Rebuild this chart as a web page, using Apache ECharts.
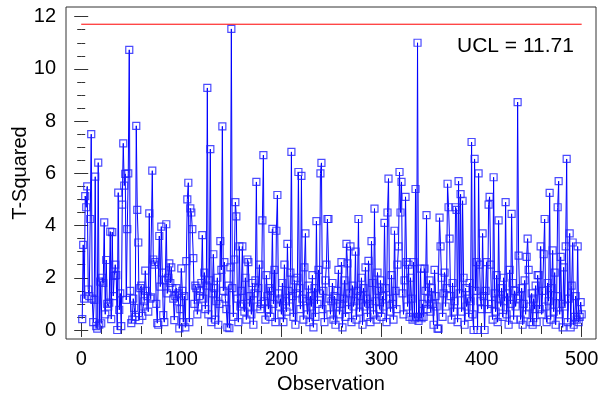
<!DOCTYPE html>
<html>
<head>
<meta charset="utf-8">
<script src="https://cdn.jsdelivr.net/npm/echarts@6/dist/echarts.min.js"></script>
<style>
html,body{margin:0;padding:0;background:#fff;}
#chart{width:598px;height:398px;}
</style>
</head>
<body>
<div id="chart"></div>
<script>
const t2 = [
0.42,3.26,1.2,5.13,4.7,5.5,1.55,1.3,4.25,7.5,1.2,0.3,1.15,5.87,0.15,0.05,6.41,0.2,1.85,0.25,
2.0,1.8,4.12,0.6,2.68,1.0,0.9,1.05,3.77,0.42,3.75,1.3,2.07,2.5,2.1,0.0,5.26,0.77,1.4,0.15,
4.8,7.15,5.53,5.98,1.15,3.86,6.0,10.73,1.5,0.26,
0.4,1.2,0.85,0.5,7.82,4.6,3.35,0.38,1.6,1.7,0.54,0.9,1.1,2.27,1.5,1.3,0.7,4.47,1.2,1.25,
6.1,2.7,2.5,2.6,1.0,0.26,0.2,3.6,1.66,3.96,2.2,0.57,0.3,1.9,4.05,1.4,2.0,2.55,1.8,2.4,
1.6,1.2,0.38,1.3,1.6,1.1,1.4,0.06,0.8,2.36,
1.5,0.3,1.3,0.1,2.64,5.0,5.64,0.3,4.66,4.5,3.86,2.75,1.0,1.7,1.6,0.6,0.9,1.3,1.5,1.8,
3.63,1.2,2.2,0.8,1.7,9.27,0.6,1.9,6.93,0.3,1.4,2.9,1.6,0.4,1.1,2.0,0.2,1.0,3.4,2.3,
7.8,1.5,2.6,1.2,0.8,0.1,1.7,0.07,2.4,11.53,
1.6,0.5,2.7,4.9,4.35,1.2,0.3,3.2,0.9,1.5,3.2,1.0,0.7,2.0,0.4,2.7,2.6,0.9,1.3,0.6,
1.8,0.2,1.4,1.9,5.67,0.9,1.6,2.5,0.8,1.0,4.2,6.7,1.1,0.4,2.1,1.3,0.8,1.6,0.5,1.5,
3.87,1.0,2.3,0.3,3.8,5.17,1.4,0.9,1.2,0.6,
1.8,0.3,2.5,1.1,0.7,3.3,1.5,0.9,2.2,6.82,1.3,0.5,1.9,0.2,1.4,2.0,6.05,1.6,0.8,5.9,
1.2,0.4,2.4,3.7,1.1,0.6,1.7,0.3,1.3,0.9,2.1,0.1,1.6,0.5,4.17,1.0,2.3,1.4,6.0,6.4,
0.8,1.5,0.3,1.9,2.5,4.25,4.25,1.2,0.6,1.1,
1.8,0.4,1.3,0.2,0.9,1.5,2.3,0.6,1.0,2.6,0.1,1.2,1.9,0.5,3.3,2.55,0.8,1.4,3.2,0.3,
1.7,0.9,1.1,3.0,0.4,1.5,4.25,0.7,1.3,2.0,0.2,1.6,0.9,2.4,1.2,0.5,2.65,1.0,0.3,3.4,
1.8,0.6,4.65,1.1,0.4,2.2,1.5,0.8,1.9,0.5,
1.3,0.9,4.1,1.6,0.3,4.5,5.8,1.2,0.7,2.1,1.0,0.4,3.8,1.5,0.8,2.5,3.2,6.05,4.5,5.67,
1.4,0.6,1.9,5.1,2.6,0.9,2.5,0.5,2.0,1.2,0.4,2.6,0.45,5.4,0.5,11.0,0.35,0.5,2.35,0.45,
1.0,0.5,2.35,1.5,4.4,0.8,1.2,1.9,0.7,1.6,
1.0,0.2,2.3,1.3,0.9,0.05,0.05,4.3,3.2,2.0,0.5,1.4,2.2,0.9,1.6,5.6,4.7,3.5,1.3,0.4,
1.8,0.7,1.1,4.7,4.6,0.3,5.7,1.4,5.2,0.7,4.95,2.0,0.2,1.6,0.9,1.2,0.5,1.8,1.1,7.2,
0.6,0.0,6.55,1.5,2.6,0.0,6.0,2.5,1.1,0.8,
3.7,1.3,0.0,1.5,2.6,0.8,4.8,5.1,2.5,1.0,0.4,5.85,1.4,0.7,2.1,0.3,4.2,1.2,0.9,1.6,
0.5,2.0,1.1,4.9,0.6,1.4,0.2,2.3,1.0,4.45,1.8,0.4,1.5,0.9,1.2,8.73,2.85,1.3,0.4,1.6,
0.2,1.0,1.9,0.6,2.8,3.5,2.3,0.9,0.3,1.4,
0.2,1.2,0.8,1.7,0.3,2.1,2.1,0.8,3.2,0.6,1.5,2.9,4.25,0.9,0.3,1.8,1.1,5.25,0.4,1.6,
3.05,0.7,2.2,0.2,1.3,4.7,5.7,0.6,2.8,1.0,0.1,2.4,0.9,3.2,6.55,0.3,1.2,3.7,0.1,1.7,
3.35,0.2,0.5,1.3,0.4,3.2,0.3,0.5,1.07,0.6
];
const observations = t2.map((_, i) => i + 1);
const ucl = 11.71;
const uclSpan = [0, 500];
const xMajorTicks = [0, 100, 200, 300, 400, 500];
const xMinorTicks = [];
for (let v = 0; v <= 500; v += 20) xMinorTicks.push(v);
const yMajorTicks = [0, 2, 4, 6, 8, 10, 12];
const yMinorTicks = [];
for (let v = 0; v <= 12; v += 0.5) yMinorTicks.push(v);

const XMIN = -15.2, XMAX = 514.3, YMIN = -0.345, YMAX = 12.37;
const axisColor = '#333';
const font = 'Liberation Sans, Arial, sans-serif';

function xAx(pos, ticks, len, labels, name) {
  return {
    type: 'value', position: pos, min: XMIN, max: XMAX, gridIndex: 0,
    axisLine: { show: false },
    splitLine: { show: false },
    axisTick: { show: true, inside: true, length: len, customValues: ticks, lineStyle: { color: axisColor, width: 1 } },
    axisLabel: labels ? { show: true, customValues: labels, fontSize: 20, fontFamily: font, color: '#000', margin: 10 } : { show: false },
    name: name || '', nameLocation: 'middle', nameGap: 35, nameMoveOverlap: false,
    nameTextStyle: { fontSize: 20, fontFamily: font, color: '#000' }
  };
}
function yAx(pos, ticks, len, labels, name) {
  return {
    type: 'value', position: pos, min: YMIN, max: YMAX, gridIndex: 0,
    axisLine: { show: false },
    splitLine: { show: false },
    axisTick: { show: true, inside: true, length: len, customValues: ticks, lineStyle: { color: axisColor, width: 1 } },
    axisLabel: labels ? { show: true, customValues: labels, fontSize: 20, fontFamily: font, color: '#000', margin: 10 } : { show: false },
    name: name || '', nameLocation: 'middle', nameGap: 36, nameRotate: 90, nameMoveOverlap: false,
    nameTextStyle: { fontSize: 20, fontFamily: font, color: '#000' }
  };
}

const chart = echarts.init(document.getElementById('chart'), null, { renderer: 'canvas' });
chart.setOption({
  animation: false,
  backgroundColor: '#fff',
  grid: { left: 66, right: 2, top: 7, bottom: 59, containLabel: false, outerBoundsMode: 'none',
          show: true, borderColor: axisColor, borderWidth: 1, backgroundColor: '#fff' },
  xAxis: [
    xAx('bottom', xMajorTicks, 7, xMajorTicks, 'Observation'),
    xAx('bottom', xMinorTicks, 4),
    xAx('top', xMajorTicks, 7),
    xAx('top', xMinorTicks, 4)
  ],
  yAxis: [
    yAx('left', yMajorTicks, 7, yMajorTicks, 'T-Squared'),
    yAx('left', yMinorTicks, 4),
    yAx('right', yMajorTicks, 7),
    yAx('right', yMinorTicks, 4)
  ],
  graphic: [{
    type: 'text', left: 457, top: 36,
    style: { text: 'UCL = ' + ucl.toFixed(2), fontSize: 21, fontFamily: font, fill: '#000' }
  }],
  series: [
    {
      type: 'line', xAxisIndex: 0, yAxisIndex: 0,
      data: uclSpan.map(x => [x, ucl]),
      symbol: 'none', lineStyle: { color: '#ff0000', width: 1 }, silent: true, z: 3
    },
    {
      type: 'line', xAxisIndex: 0, yAxisIndex: 0,
      data: observations.map((x, i) => [x, t2[i]]),
      symbol: 'rect', symbolSize: 7, showSymbol: true, showAllSymbol: true,
      itemStyle: { color: 'rgba(0,0,0,0)', borderColor: 'rgba(30,30,255,0.8)', borderWidth: 1.2 },
      lineStyle: { color: '#0000ff', width: 1 },
      silent: true, z: 2
    }
  ]
});
</script>
</body>
</html>
